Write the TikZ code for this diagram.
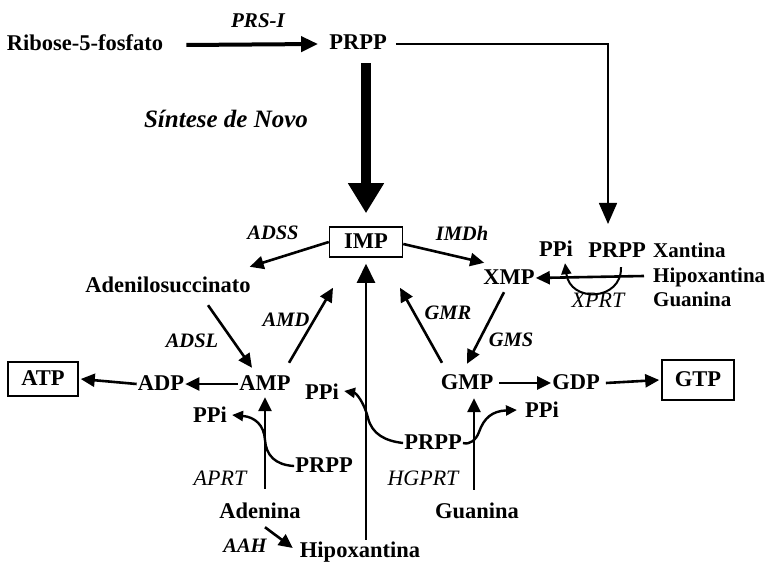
\documentclass[tikz,border=0pt]{standalone}
\usepackage{fontspec}
\setmainfont{Liberation Serif}
\usetikzlibrary{arrows.meta}
\begin{document}
\begin{tikzpicture}[x=1pt,y=-1pt,
  lbl/.style={font=\fontsize{22.5}{26}\selectfont\bfseries, inner sep=1pt, text height=16pt, text depth=4pt},
  rlbl/.style={lbl, font=\fontsize{21}{24}\selectfont\bfseries, anchor=west},
  enz/.style={font=\fontsize{22}{26}\selectfont\itshape, inner sep=1pt},
  enzm/.style={font=\fontsize{20.5}{24}\selectfont\bfseries\itshape, inner sep=1pt},
  enzb/.style={font=\fontsize{25}{28}\selectfont\bfseries\itshape, inner sep=1pt},
  boxed/.style={lbl, draw, line width=1.5pt},
  arr/.style={line width=2.6pt, -{Triangle[length=14pt,width=13pt]}},
  varr/.style={line width=2pt, -{Triangle[length=19pt,width=18pt]}},
  carr/.style={line width=2.4pt, -{Triangle[length=11pt,width=10pt]}},
]
\useasboundingbox (0,0) rectangle (768,564);
\fill[white] (0,0) rectangle (768,564);

% top
\node[lbl] (ribose) at (85,45) {Ribose-5-fosfato};
\node[enzb, font=\fontsize{21}{24}\selectfont\bfseries\itshape] (prs) at (258,21) {PRS-I};
\node[lbl] (prpp0) at (358,44) {PRPP};
\node[enzb] (sintese) at (226,119) {Síntese de Novo};

% middle
\node[boxed, minimum width=73pt, minimum height=30pt] (imp) at (366,242) {IMP};
\node[enzm] (adss) at (273,233) {ADSS};
\node[enzm] (imdh) at (462,233) {IMDh};
\node[lbl] (adenilo) at (168,286) {Adenilosuccinato};
\node[lbl] (xmp) at (509,278) {XMP};
\node[rlbl] (xant) at (652,251) {Xantina};
\node[rlbl] (hipo) at (652,276) {Hipoxantina};
\node[rlbl] (guan) at (652,300) {Guanina};
\node[lbl] (ppi1) at (556,250) {PPi};
\node[lbl] (prpp1) at (617,251) {PRPP};
\node[enz] (xprt) at (598,300) {XPRT};
\node[enzm] (adsl) at (192,341) {ADSL};
\node[enzm] (amd) at (286,320) {AMD};
\node[enzm] (gmr) at (448,313) {GMR};
\node[enzm] (gms) at (511,340) {GMS};

% row
\node[boxed, minimum width=70pt, minimum height=34pt] (atp) at (43,379) {ATP};
\node[lbl] (adp) at (161,384) {ADP};
\node[lbl] (amp) at (265,384) {AMP};
\node[lbl] (gmp) at (467,383) {GMP};
\node[lbl] (gdp) at (576,383) {GDP};
\node[boxed, minimum width=72pt, minimum height=40pt] (gtp) at (698,380) {GTP};
\node[lbl] (ppi2) at (322,393) {PPi};
\node[lbl] (ppi3) at (210,416) {PPi};
\node[lbl] (ppi4) at (542,411) {PPi};

% bottom
\node[lbl] (prpp2) at (324,466) {PRPP};
\node[lbl] (prpp3) at (433,443) {PRPP};
\node[enz] (aprt) at (220,478) {APRT};
\node[enz] (hgprt) at (423,478) {HGPRT};
\node[lbl] (adenina) at (260,512) {Adenina};
\node[lbl] (guan2) at (477,512) {Guanina};
\node[enzm] (aah) at (245,546) {AAH};
\node[lbl] (hipo2) at (360,551) {Hipoxantina};

% connectors top
\draw[line width=4pt, -{Triangle[length=17pt,width=15pt]}] ([xshift=22pt]ribose.east) -- ([xshift=-10pt]prpp0.west);
\coordinate (turn) at (608,224);
\draw[line width=1.5pt, -{Triangle[length=21pt,width=18pt]}] ([xshift=8pt]prpp0.east) -| (turn);
\draw[line width=10pt, -{Triangle[length=30pt,width=34pt]}] (prpp0.south -| imp.north) ++(0,8) -- ([yshift=13pt]imp.north);

% IMP branches
\draw[arr] (imp.west) -- ([shift={(-2,-8)}]adenilo.north east);
\draw[arr] ([yshift=-2pt]imp.east) -- ([shift={(2,-4)}]xmp.north west);
\draw[arr] ([xshift=-8pt]hipo.west) -- (xmp.east);
\draw[carr, line width=2pt] ([shift={(4,5)}]prpp1.south) .. controls +(1,34) and +(5,40) .. ([shift={(9,2)}]ppi1.south);

\draw[arr] ([shift={(40,8)}]adenilo.south) -- ([shift={(-13,-5)}]amp.north);
\draw[arr] ([shift={(24,-10)}]amp.north) -- ([shift={(-33,30)}]imp.south);
\draw[arr] ([shift={(-25,-9)}]gmp.north) -- ([shift={(34,30)}]imp.south);
\draw[arr] ([shift={(-5,3)}]xmp.south) -- ([shift={(0,-8)}]gmp.north);

% row arrows
\draw[arr] (amp.west) -- (adp.east);
\draw[arr] (adp.west) -- ([xshift=2pt]atp.east);
\draw[arr] ([xshift=5pt]gmp.east) -- (gdp.west);
\draw[arr] ([xshift=5pt]gdp.east) -- ([xshift=-2pt]gtp.west);

% salvage
\draw[arr] ([shift={(5,-12)}]adenina.north) -- ([shift={(0,2)}]amp.south);
\draw[arr] ([shift={(-3,-11)}]guan2.north) -- ([shift={(7,4)}]gmp.south);
\draw[varr] ([shift={(6,0)}]hipo2.north) -- ([yshift=-6pt]imp.south);
\draw[arr] ([shift={(5,4)}]adenina.south) -- ([shift={(-6,-3)}]hipo2.west);

\draw[carr] (prpp2.west) .. controls (275,465) and (266,455) .. (265,440) .. controls (264,425) and (255,417) .. ([shift={(4,-1)}]ppi3.east);
\draw[carr] (prpp3.west) .. controls (385,441) and (372,434) .. (368,418) .. controls (364,402) and (356,393) .. ([shift={(4,-2)}]ppi2.east);
\draw[carr] (prpp3.east) .. controls (470,445) and (476,440) .. (479,432) .. controls (484,418) and (492,411) .. ([shift={(-7,-1)}]ppi4.west);
\end{tikzpicture}
\end{document}
